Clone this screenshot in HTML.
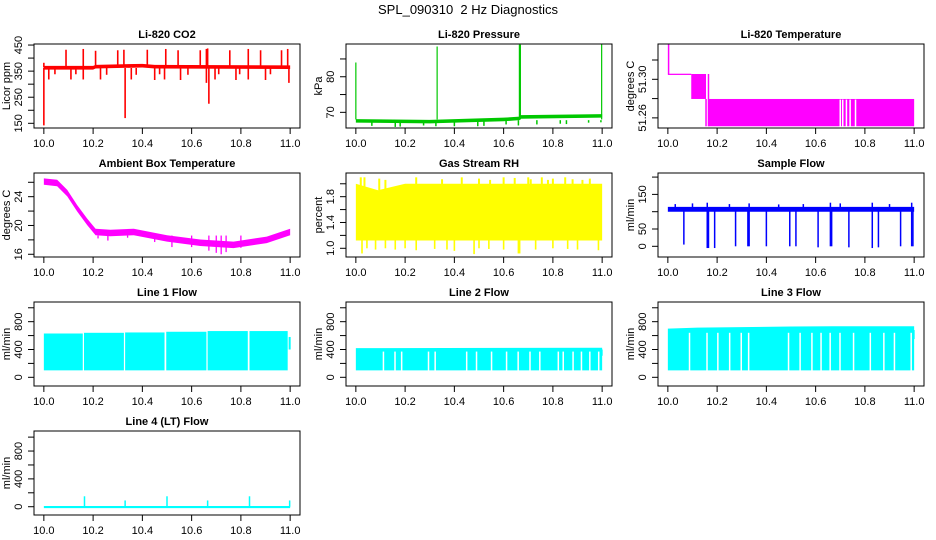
<!DOCTYPE html>
<html><head><meta charset="utf-8"><style>
html,body{margin:0;padding:0;background:#fff;width:936px;height:540px;overflow:hidden}
svg{display:block;font-family:"Liberation Sans",Arial,sans-serif}
</style></head><body>
<svg id="chart" width="936" height="540" viewBox="0 0 936 540">
<text x="468" y="14" text-anchor="middle" font-size="13" style="white-space:pre" xml:space="preserve">SPL_090310  2 Hz Diagnostics</text>
</svg>
<script>
// ---- data ----
const xTicks=[10.0,10.2,10.4,10.6,10.8,11.0];
const xTickLabels=["10.0","10.2","10.4","10.6","10.8","11.0"];
// CO2
const co2BaseX=[10.0,10.2,10.21,10.4,10.45,11.0];
const co2BaseLo=[356,356,360,364,360,358];
const co2BaseHi=[370,370,374,378,374,372];
const co2UpX=[10.0,10.09,10.16,10.21,10.30,10.325,10.42,10.495,10.545,10.635,10.66,10.665,10.755,10.83,10.88,10.965,10.99];
const co2UpV=[382,432,435,428,430,432,432,435,430,430,435,437,430,435,430,430,435];
const co2DnX=[10.0,10.02,10.045,10.11,10.13,10.16,10.23,10.255,10.33,10.355,10.375,10.45,10.47,10.49,10.555,10.585,10.66,10.67,10.695,10.71,10.78,10.795,10.83,10.90,10.92,10.995];
const co2DnV=[142,318,338,318,338,318,318,336,170,318,336,316,338,318,316,336,305,225,318,338,316,338,318,316,338,305];
// Pressure
const prBaseX=[10.0,10.3,10.6,10.665,10.67,11.0];
const prBaseLo=[67.1,66.9,67.5,67.8,68.2,68.5];
const prBaseHi=[68.1,67.9,68.5,68.8,69.2,69.5];
const prUpX=[10.0,10.33,10.664,10.666,10.668,10.998];
const prUpV=[84,88.5,89,89,89,89.2];
const prDnX=[10.065,10.16,10.18,10.275,10.325,10.40,10.495,10.52,10.61,10.66,10.735,10.83,10.855,10.945,10.995];
const prDnV=[66.2,65.9,66,66.3,66.1,66.1,66.1,66.2,66.6,66.3,66.6,66.8,66.7,67.1,67.2];
// Li-820 temperature
const ltRectX0=[10.0,10.095,10.165];
const ltRectX1=[10.095,10.155,11.0];
const ltRectLo=[51.3045,51.2796,51.2513];
const ltRectHi=[51.3058,51.3055,51.2796];
const ltLineX=[10.003,10.155,10.165];
const ltLineLo=[51.3055,51.2513,51.2513];
const ltLineHi=[51.337,51.2796,51.3055];
const ltGapX=[10.70,10.71,10.725,10.74,10.762];
// Ambient box temperature
const abX=[10.0,10.054,10.095,10.135,10.176,10.21,10.27,10.365,10.5,10.635,10.77,10.905,11.0];
const abV=[26.1,25.9,24.5,22.4,20.5,19.1,18.95,19.1,18.2,17.6,17.3,18.0,19.1];
const abDnX=[10.22,10.26,10.34,10.45,10.52,10.6,10.67,10.7,10.72,10.74,10.8];
const abDnV=[18.2,17.9,18.3,17.7,17.0,17.0,16.5,16.2,16.0,16.3,16.9];
// Gas stream RH
const rhTopX=[10.0,10.09,10.2,11.0];
const rhTopV=[2.0,1.9,2.0,2.0];
const rhLo=1.12;
const rhUpX=[10.02,10.035,10.095,10.12,10.245,10.35,10.43,10.5,10.545,10.6,10.645,10.7,10.71,10.755,10.78,10.8,10.85,10.88,10.92,10.95];
const rhUpV=[2.1,2.1,2.08,2.06,2.1,2.07,2.1,2.08,2.06,2.1,2.09,2.1,2.07,2.1,2.06,2.08,2.1,2.07,2.06,2.08];
const rhDnX=[10.025,10.045,10.08,10.12,10.16,10.2,10.245,10.32,10.37,10.4,10.48,10.5,10.54,10.6,10.66,10.665,10.73,10.8,10.86,10.9,10.985];
const rhDnV=[0.92,1.0,0.98,1.0,0.98,1.0,0.97,0.99,0.98,0.96,0.91,1.0,0.99,0.98,0.92,0.92,0.98,1.0,0.99,0.98,0.97];
// Sample flow
const sfBaseLo=100, sfBaseHi=114;
const sfUpX=[10.03,10.1,10.16,10.25,10.33,10.45,10.55,10.66,10.7,10.83,10.9,10.99];
const sfUpV=[122,124,126,122,124,121,122,126,124,126,122,126];
const sfDnX=[10.065,10.16,10.165,10.19,10.275,10.325,10.33,10.40,10.495,10.52,10.61,10.66,10.665,10.735,10.83,10.855,10.945,10.99,10.995];
const sfDnV=[5,-5,-5,-5,0,0,0,0,0,0,-3,0,0,-3,-5,-3,0,0,0];
// Line flows
const l1SegX0=[10.0,10.163,10.33,10.497,10.665,10.835];
const l1SegX1=[10.158,10.325,10.49,10.66,10.828,10.99];
const l1Top=[630,640,645,655,665,665];
const l2TopX=[10.0,11.0];
const l2TopV=[420,425];
const l2Gap=[10.112,10.159,10.186,10.295,10.322,10.45,10.49,10.551,10.612,10.659,10.707,10.747,10.822,10.842,10.882,10.916,10.95,10.986];
const l3TopX=[10.0,10.12,10.5,10.67,11.0];
const l3TopV=[700,715,730,735,735];
const l3Gap=[10.088,10.159,10.203,10.251,10.298,10.328,10.49,10.537,10.585,10.622,10.659,10.699,10.754,10.822,10.877,10.92,10.988];
const flowLo=100;
const l4SpikeX=[10.165,10.33,10.5,10.665,10.835,10.998];
const l4SpikeV=[150,90,150,90,150,90];

// ---- layout ----
const svg=document.getElementById('chart');
const NS='http://www.w3.org/2000/svg';
const colL=[34,346,658], rowT=[44,173,302,431], W=266, H=84;
function el(tag,attrs,parent){const e=document.createElementNS(NS,tag);for(const k in attrs)e.setAttribute(k,attrs[k]);(parent||svg).appendChild(e);return e;}

function panel(name,col,row,title,ylab,ylim,yt,ylabs){
  const L=colL[col],T=rowT[row];
  const g=el('g',{});
  
  
  const sx=v=>L+(v-9.96)/1.08*W;
  const sy=v=>T+H-(v-ylim[0])/(ylim[1]-ylim[0])*H;
  const clip=el('clipPath',{id:'c'+name},g);
  el('rect',{x:L,y:T,width:W,height:H},clip);
  const plot=el('g',{'clip-path':'url(#c'+name+')'},g);
  
  
  const t=el('text',{x:L+W/2,y:T-6,'text-anchor':'middle','font-size':11,'font-weight':'bold'},g);
  t.textContent=title;
  
  
  const xa=el('g',{stroke:'#000','stroke-width':1},g);
  
  
  el('line',{x1:sx(xTicks[0]),x2:sx(xTicks[xTicks.length-1]),y1:T+H,y2:T+H},xa);
  xTicks.forEach((v,i)=>{
    el('line',{x1:sx(v),x2:sx(v),y1:T+H,y2:T+H+6},xa);
    const tx=el('text',{x:sx(v),y:T+H+19,'text-anchor':'middle','font-size':11,stroke:'none'},xa);
    tx.textContent=xTickLabels[i];
  });
  const ya=el('g',{stroke:'#000','stroke-width':1},g);
  
  
  el('line',{x1:L,x2:L,y1:sy(yt[0]),y2:sy(yt[yt.length-1])},ya);
  yt.forEach((v,i)=>{
    el('line',{x1:L-6,x2:L,y1:sy(v),y2:sy(v)},ya);
    if(ylabs[i]){const ty=el('text',{x:0,y:0,'text-anchor':'middle','font-size':11,stroke:'none',transform:`translate(${L-12},${sy(v)}) rotate(-90)`},ya);ty.textContent=ylabs[i];}
  });
  const yl=el('text',{x:0,y:0,'text-anchor':'middle','font-size':11,transform:`translate(${L-24},${T+H/2}) rotate(-90)`},g);
  yl.textContent=ylab;
  
  
  const box=el('rect',{x:L,y:T,width:W,height:H,fill:'none',stroke:'#000','stroke-width':1},g);
  
  
  return {sx,sy,plot};
}
function band(p,xs,lo,hi,color){
  let pts=xs.map((x,i)=>p.sx(x)+','+p.sy(hi[i]));
  for(let i=xs.length-1;i>=0;i--)pts.push(p.sx(xs[i])+','+p.sy(lo[i]));
  const e=el('polygon',{points:pts.join(' '),fill:color},p.plot);
  
  
}
function vlines(p,xs,a,b,color,w){
  xs.forEach((x,i)=>{
    const y1=Array.isArray(a)?a[i]:a, y2=Array.isArray(b)?b[i]:b;
    const e=el('line',{x1:p.sx(x),x2:p.sx(x),y1:p.sy(y1),y2:p.sy(y2),stroke:color,'stroke-width':w||1.3},p.plot);
    
    
  });
}
function rects(p,x0,x1,lo,hi,color){
  x0.forEach((x,i)=>{
    const e=el('rect',{x:p.sx(x),y:p.sy(hi[i]),width:Math.max(1,p.sx(x1[i])-p.sx(x)),height:Math.max(1.2,p.sy(lo[i])-p.sy(hi[i])),fill:color},p.plot);
    
    
  });
}

let p=panel('co2',0,0,'Li-820 CO2','Licor ppm',[132,454],[150,200,250,300,350,400,450],['150','','250','','350','','450']);
vlines(p,co2UpX,co2UpX.map(()=>364),co2UpV,'#f00',1.6);
vlines(p,co2DnX,co2DnX.map(()=>362),co2DnV,'#f00',1.6);
band(p,co2BaseX,co2BaseLo,co2BaseHi,'#f00');

p=panel('pressure',1,0,'Li-820 Pressure','kPa',[65.6,89.2],[70,75,80,85],['70','','80','']);
vlines(p,prUpX,prUpX.map(()=>68),prUpV,'#00c800',1.2);
vlines(p,prDnX,prDnX.map(()=>67.8),prDnV,'#00c800',1.5);
band(p,prBaseX,prBaseLo,prBaseHi,'#00c800');

p=panel('litemp',2,0,'Li-820 Temperature','degrees C',[51.2495,51.3366],[51.26,51.28,51.30,51.32],['51.26','','51.30','']);
rects(p,ltRectX0,ltRectX1,ltRectLo,ltRectHi,'#f0f');
vlines(p,ltLineX,ltLineLo,ltLineHi,'#f0f',1.5);
vlines(p,ltGapX,51.25,51.279,'#fff',1.5);

p=panel('ambient',0,1,'Ambient Box Temperature','degrees C',[15.62,27.29],[16,18,20,22,24,26],['16','','20','','24','']);
band(p,abX,abV.map(v=>v-0.45),abV.map(v=>v+0.45),'#f0f');
vlines(p,abDnX,abDnX.map(()=>18.6),abDnV,'#f0f',1.3);

p=panel('rh',1,1,'Gas Stream RH','percent',[0.865,2.167],[1.0,1.2,1.4,1.6,1.8,2.0],['1.0','','1.4','','1.8','']);
band(p,rhTopX,rhTopX.map(()=>rhLo),rhTopV,'#ff0');
vlines(p,rhUpX,rhUpX.map(()=>1.9),rhUpV,'#ff0',2);
vlines(p,rhDnX,rhDnX.map(()=>1.3),rhDnV,'#ff0',1.6);

p=panel('sampleflow',2,1,'Sample Flow','ml/min',[-30.9,211.8],[0,50,100,150,200],['0','50','','150','']);
band(p,[10.0,11.0],[sfBaseLo,sfBaseLo],[sfBaseHi,sfBaseHi],'#00f');
vlines(p,sfUpX,sfUpX.map(()=>110),sfUpV,'#00f',1.5);
vlines(p,sfDnX,sfDnX.map(()=>105),sfDnV,'#00f',1.5);

p=panel('line1',0,2,'Line 1 Flow','ml/min',[-125,1083],[0,200,400,600,800,1000],['0','','400','','800','']);
rects(p,l1SegX0,l1SegX1,l1SegX0.map(()=>flowLo),l1Top,'#0ff');
vlines(p,[10.998],[400],[580],'#0ff',2);

p=panel('line2',1,2,'Line 2 Flow','ml/min',[-125,1083],[0,200,400,600,800,1000],['0','','400','','800','']);
band(p,l2TopX,l2TopX.map(()=>flowLo),l2TopV,'#0ff');
vlines(p,l2Gap,l2Gap.map(()=>flowLo-5),l2Gap.map(()=>370),'#fff',1.5);
vlines(p,[10.998],[310],[400],'#0ff',2);

p=panel('line3',2,2,'Line 3 Flow','ml/min',[-125,1083],[0,200,400,600,800,1000],['0','','400','','800','']);
band(p,l3TopX,l3TopX.map(()=>flowLo),l3TopV,'#0ff');
vlines(p,l3Gap,l3Gap.map(()=>flowLo-5),l3Gap.map(()=>640),'#fff',1.5);
vlines(p,[10.998],[550],[680],'#0ff',2);

p=panel('line4',0,3,'Line 4 (LT) Flow','ml/min',[-119,1088],[0,200,400,600,800,1000],['0','','400','','800','']);
band(p,[10.0,11.0],[-20,-20],[10,10],'#0ff');
vlines(p,l4SpikeX,l4SpikeX.map(()=>0),l4SpikeV,'#0ff',1.5);
</script>
</body></html>
